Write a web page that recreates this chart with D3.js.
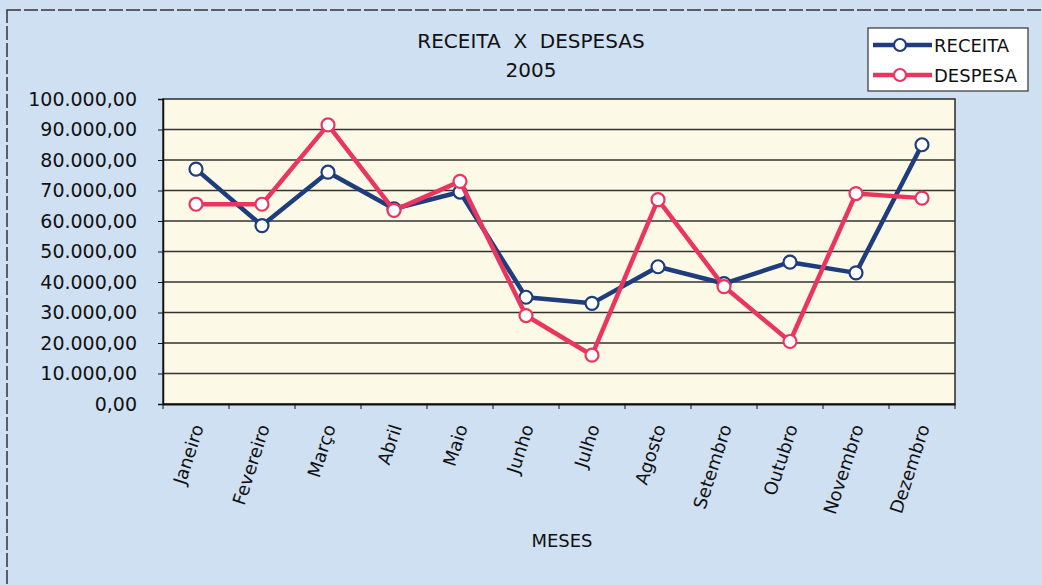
<!DOCTYPE html>
<html>
<head>
<meta charset="utf-8">
<script src="https://cdn.jsdelivr.net/npm/d3@7"></script>
<style>
  body { margin: 0; background: #cfe0f3; }
  svg { display: block; }
  text { font-family: "DejaVu Sans", Verdana, sans-serif; fill: #111; }
</style>
</head>
<body>
<svg id="chart" width="1042" height="585"></svg>
<script>
// data
const months = ["Janeiro", "Fevereiro", "Março", "Abril", "Maio", "Junho",
  "Julho", "Agosto", "Setembro", "Outubro", "Novembro", "Dezembro"];
const receita = [77000, 58500, 76000, 64000, 69500, 35000, 33000, 45000, 39500, 46500, 43000, 85000];
const despesa = [65500, 65500, 91500, 63500, 73000, 29000, 16000, 67000, 38500, 20500, 69000, 67500];
const yTicks = [0, 10000, 20000, 30000, 40000, 50000, 60000, 70000, 80000, 90000, 100000];

const series = [
  { name: "RECEITA", values: receita, color: "#1f3d7c" },
  { name: "DESPESA", values: despesa, color: "#ea3560" }
];

const svg = d3.select("#chart");
const W = 1042, H = 585;
const plot = { left: 163, right: 955, top: 99, bottom: 404 };

// background
svg.append("rect").attr("width", W).attr("height", H).attr("fill", "#cfe0f3");
svg.append("rect")
  .attr("x", 7).attr("y", 10).attr("width", W + 10).attr("height", H + 10)
  .attr("fill", "none").attr("stroke", "#333").attr("stroke-width", 1.5)
  .attr("stroke-dasharray", "14 3");

const x = d3.scaleBand().domain(months).range([plot.left, plot.right]);
const y = d3.scaleLinear().domain([0, 100000]).range([plot.bottom, plot.top]);

// plot area
svg.append("rect")
  .attr("x", plot.left).attr("y", plot.top)
  .attr("width", plot.right - plot.left).attr("height", plot.bottom - plot.top)
  .attr("fill", "#fcf9e6").attr("stroke", "#2a2a2a").attr("stroke-width", 1.5);

// gridlines
svg.append("g").selectAll("line")
  .data(yTicks.filter(d => d > 0 && d < 100000))
  .join("line")
  .attr("x1", plot.left).attr("x2", plot.right)
  .attr("y1", d => y(d)).attr("y2", d => y(d))
  .attr("stroke", "#333").attr("stroke-width", 1.6);

const fmt = d3.formatLocale({ decimal: ",", thousands: ".", grouping: [3], currency: ["", ""] }).format(",.2f");

// y axis
const yAxis = svg.append("g")
  .attr("transform", `translate(${plot.left},0)`)
  .call(d3.axisLeft(y).tickValues(yTicks).tickFormat(fmt).tickSize(5).tickPadding(21));
yAxis.select(".domain").attr("stroke", "#111").attr("stroke-width", 1.5);
yAxis.selectAll(".tick line").attr("stroke", "#111");
yAxis.selectAll("text").attr("font-size", 19).style("font-family", "DejaVu Sans, sans-serif").attr("fill", "#111");

// x axis
const xAxis = svg.append("g")
  .attr("transform", `translate(0,${plot.bottom})`)
  .call(d3.axisBottom(x).tickSize(0).tickPadding(0));
xAxis.select(".domain").attr("stroke", "#111").attr("stroke-width", 2);
xAxis.selectAll("text")
  .attr("font-size", 18).style("font-family", "DejaVu Sans, sans-serif").attr("fill", "#111")
  .attr("text-anchor", "end")
  .attr("dy", "0.35em")
  .attr("transform", "translate(2,21) rotate(-72)");
// category boundary ticks
svg.append("g").selectAll("line")
  .data(months.concat(["__end"]))
  .join("line")
  .attr("x1", (d, i) => plot.left + i * x.step())
  .attr("x2", (d, i) => plot.left + i * x.step())
  .attr("y1", plot.bottom).attr("y2", plot.bottom + 5)
  .attr("stroke", "#111").attr("stroke-width", 1);

// lines and markers
const line = d3.line()
  .x((d, i) => x(months[i]) + x.bandwidth() / 2)
  .y(d => y(d));

series.forEach(s => {
  svg.append("path")
    .datum(s.values)
    .attr("d", line)
    .attr("fill", "none")
    .attr("stroke", s.color)
    .attr("stroke-width", 4.5)
    .attr("stroke-linejoin", "round");
  svg.append("g").selectAll("circle")
    .data(s.values)
    .join("circle")
    .attr("cx", (d, i) => x(months[i]) + x.bandwidth() / 2)
    .attr("cy", d => y(d))
    .attr("r", 6.5)
    .attr("fill", "#fff")
    .attr("stroke", s.color)
    .attr("stroke-width", 2.2);
});

// titles
svg.append("text").attr("x", 531).attr("y", 48).attr("text-anchor", "middle")
  .attr("font-size", 20).attr("xml:space", "preserve").style("white-space", "pre")
  .text("RECEITA  X  DESPESAS");
svg.append("text").attr("x", 531).attr("y", 77).attr("text-anchor", "middle")
  .attr("font-size", 20).text("2005");
svg.append("text").attr("x", 562).attr("y", 547).attr("text-anchor", "middle")
  .attr("font-size", 18).text("MESES");

// legend
const lg = svg.append("g").attr("transform", "translate(868,28)");
lg.append("rect").attr("width", 160).attr("height", 63)
  .attr("fill", "#fff").attr("stroke", "#333").attr("stroke-width", 1.2);
series.forEach((s, i) => {
  const cy = 17 + i * 30;
  lg.append("line").attr("x1", 5).attr("x2", 64).attr("y1", cy).attr("y2", cy)
    .attr("stroke", s.color).attr("stroke-width", 4.5);
  lg.append("circle").attr("cx", 32).attr("cy", cy).attr("r", 6)
    .attr("fill", "#fff").attr("stroke", s.color).attr("stroke-width", 2.2);
  lg.append("text").attr("x", 66).attr("y", cy + 7).attr("font-size", 18)
    .text(s.name);
});
</script>
</body>
</html>
